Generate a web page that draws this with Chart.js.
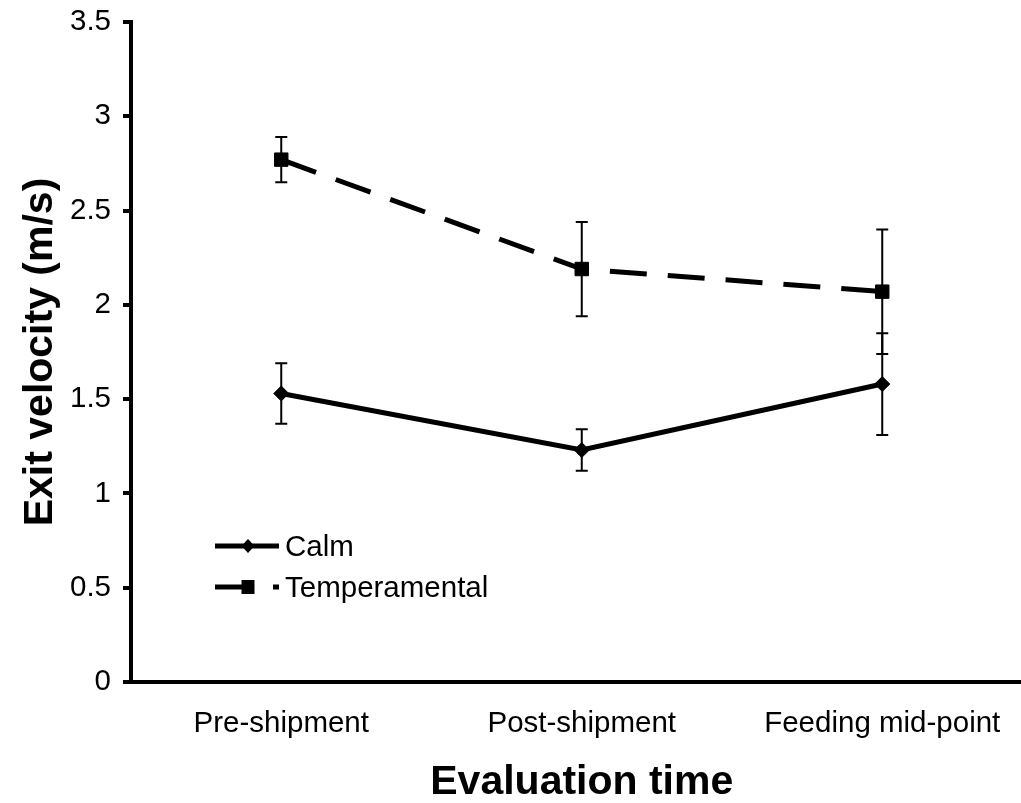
<!DOCTYPE html>
<html>
<head>
<meta charset="utf-8">
<script src="https://cdn.jsdelivr.net/npm/chart.js@4/dist/chart.umd.min.js"></script>
<style>
  html, body { margin: 0; padding: 0; background: #fff; overflow: hidden; }
  #wrap { width: 1043px; height: 803px; }
</style>
</head>
<body>
<div id="wrap"><canvas id="chart" width="1043" height="803"></canvas></div>
<script>
const categories = ['Pre-shipment', 'Post-shipment', 'Feeding mid-point']
const calm = [1.53, 1.23, 1.58]
const calmErr = [0.16, 0.11, 0.27]
const temperamental = [2.77, 2.19, 2.07]
const temperamentalErr = [0.12, 0.25, 0.33]
const seriesNames = ['Calm', 'Temperamental']

const FONT = "Arial, 'Liberation Sans', sans-serif"

// vertical error bars with small caps, drawn under the lines
const errorBars = {
    id: 'errorBars',
    beforeDatasetsDraw(chart) {
        const ctx = chart.ctx
        const y = chart.scales.y
        const errs = [calmErr, temperamentalErr]
        ctx.save()
        ctx.strokeStyle = '#000'
        ctx.lineWidth = 2
        chart.data.datasets.forEach((ds, i) => {
            const meta = chart.getDatasetMeta(i)
            meta.data.forEach((pt, j) => {
                const top = y.getPixelForValue(ds.data[j] + errs[i][j])
                const bot = y.getPixelForValue(ds.data[j] - errs[i][j])
                ctx.beginPath()
                ctx.moveTo(pt.x, top)
                ctx.lineTo(pt.x, bot)
                ctx.moveTo(pt.x - 6, top)
                ctx.lineTo(pt.x + 6, top)
                ctx.moveTo(pt.x - 6, bot)
                ctx.lineTo(pt.x + 6, bot)
                ctx.stroke()
            })
        })
        ctx.restore()
    }
}

// legend sitting inside the plot, lower left
const insideLegend = {
    id: 'insideLegend',
    afterDraw(chart) {
        const ctx = chart.ctx
        const area = chart.chartArea
        const x0 = area.left + 84
        ctx.save()
        chart.data.datasets.forEach((ds, i) => {
            const yy = area.top + 524 + i * 41
            ctx.strokeStyle = '#000'
            ctx.fillStyle = '#000'
            ctx.lineWidth = ds.borderWidth
            ctx.setLineDash(ds.borderDash || [])
            ctx.beginPath()
            ctx.moveTo(x0, yy)
            ctx.lineTo(x0 + 64, yy)
            ctx.stroke()
            ctx.setLineDash([])
            const mx = x0 + 33
            ctx.beginPath()
            if (ds.pointStyle === 'rectRot') {
                ctx.moveTo(mx, yy - 7)
                ctx.lineTo(mx + 6.5, yy)
                ctx.lineTo(mx, yy + 7)
                ctx.lineTo(mx - 6.5, yy)
                ctx.closePath()
            } else {
                ctx.rect(mx - 6.5, yy - 7, 13, 14)
            }
            ctx.fill()
            ctx.font = '29.5px ' + FONT
            ctx.textBaseline = 'middle'
            ctx.textAlign = 'left'
            ctx.fillText(ds.label, x0 + 70, yy + 2)
        })
        ctx.restore()
    }
}

const ctx = document.getElementById('chart').getContext('2d')
Chart.defaults.font.family = FONT
Chart.defaults.color = '#000'

new Chart(ctx, {
    type: 'line',
    data: {
        labels: categories,
        datasets: [
            {
                label: seriesNames[0],
                data: calm,
                borderColor: '#000',
                backgroundColor: '#000',
                borderWidth: 5,
                pointStyle: 'rectRot',
                pointRadius: 7.5,
                pointBorderWidth: 1,
                tension: 0,
            },
            {
                label: seriesNames[1],
                data: temperamental,
                borderColor: '#000',
                backgroundColor: '#000',
                borderWidth: 5,
                borderDash: [37, 21],
                pointStyle: 'rect',
                pointRadius: 9.5,
                pointBorderWidth: 1,
                tension: 0,
            }
        ]
    },
    options: {
        responsive: false,
        animation: false,
        devicePixelRatio: 1,
        layout: { padding: 0 },
        plugins: {
            legend: { display: false },
            tooltip: { enabled: false },
        },
        scales: {
            x: {
                offset: true,
                grid: { display: false, drawTicks: false },
                border: { display: true, color: '#000', width: 4 },
                ticks: { font: { size: 29.5 }, padding: 24, maxRotation: 0 },
                title: {
                    display: true,
                    text: 'Evaluation time',
                    font: { size: 41, weight: 'bold', lineHeight: 1 },
                    padding: 0,
                },
                afterFit(scale) { scale.height = 121 }
            },
            y: {
                min: 0,
                max: 3.5,
                grid: { drawOnChartArea: false, color: '#000', lineWidth: 4, tickLength: 8 },
                border: { display: true, color: '#000', width: 4 },
                ticks: {
                    stepSize: 0.5,
                    font: { size: 29.5 },
                    padding: 12,
                    callback: v => String(v)
                },
                title: {
                    display: true,
                    text: 'Exit velocity (m/s)',
                    font: { size: 41, weight: 'bold', lineHeight: 1 },
                    padding: { top: 20, bottom: 0 },
                },
                afterFit(scale) {
                    scale.width = 131
                    scale.paddingTop = 22
                    scale.paddingBottom = 0
                }
            }
        }
    },
    plugins: [errorBars, insideLegend]
})
</script>
</body>
</html>
